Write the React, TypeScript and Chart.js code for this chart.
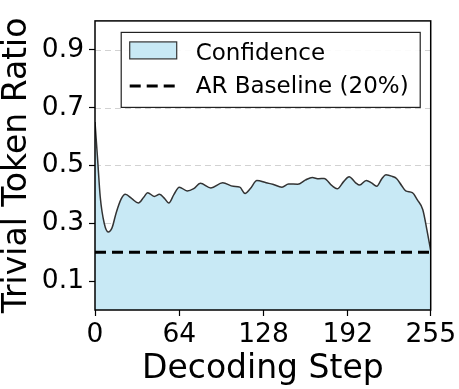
import React, { useEffect, useRef } from "react";
import { Chart, registerables } from "chart.js";
Chart.register(...registerables);

const steps = [0, 2, 4, 7, 10, 13, 16, 20, 23, 28, 33, 37, 40, 45, 49, 53, 56, 60, 64, 70, 75, 80, 88, 97, 105, 110, 114, 118, 123, 130, 135, 142, 147, 154, 160, 165, 170, 174, 180, 184, 189, 193, 198, 201, 206, 210, 214, 218, 221, 226, 229, 233, 236, 241, 245, 249, 252, 255];
const ratios = [0.65, 0.52, 0.39, 0.3, 0.27, 0.285, 0.335, 0.385, 0.4, 0.385, 0.37, 0.39, 0.406, 0.393, 0.4, 0.385, 0.37, 0.4, 0.425, 0.412, 0.42, 0.438, 0.422, 0.44, 0.428, 0.425, 0.403, 0.42, 0.448, 0.44, 0.435, 0.425, 0.436, 0.435, 0.45, 0.458, 0.454, 0.455, 0.43, 0.419, 0.445, 0.461, 0.44, 0.432, 0.448, 0.44, 0.428, 0.455, 0.468, 0.462, 0.455, 0.43, 0.412, 0.406, 0.38, 0.347, 0.28, 0.205];
const baselineValue = 0.2;
const xTicks = [0, 64, 128, 192, 255];
const yTicks = [0.1, 0.3, 0.5, 0.7, 0.9];
const seriesLabels = ["Confidence", "AR Baseline (20%)"];
const xTitle = "Decoding Step";
const yTitle = "Trivial Token Ratio";

const FILL = "#c8e9f5";
const LINE = "#333333";
const FONT = "'DejaVu Sans', sans-serif";

export default function App() {
  const ref = useRef<HTMLCanvasElement>(null);
  useEffect(() => {
    document.body.style.margin = "0";
    const canvas = ref.current!;
    const plugin = {
      id: "decor",
      beforeDatasetsDraw(chart: any) {
        const { ctx, chartArea: a, scales } = chart;
        ctx.save();
        ctx.strokeStyle = "#d2d2d2";
        ctx.lineWidth = 1.2;
        ctx.setLineDash([6, 4]);
        for (const v of yTicks) {
          const y = Math.round(scales.y.getPixelForValue(v)) + 0.5;
          ctx.beginPath();
          ctx.moveTo(a.left, y);
          ctx.lineTo(a.right, y);
          ctx.stroke();
        }
        ctx.restore();
      },
      afterDraw(chart: any) {
        const { ctx, chartArea: a } = chart;
        ctx.save();
        ctx.strokeStyle = "#000";
        ctx.lineWidth = 1.5;
        ctx.setLineDash([]);
        ctx.strokeRect(a.left, a.top, a.right - a.left, a.bottom - a.top);
        // legend
        const bx = a.right - 310;
        const by = a.top + 11;
        const bw = 299;
        const bh = 75;
        ctx.fillStyle = "rgba(255,255,255,0.9)";
        ctx.fillRect(bx, by, bw, bh);
        ctx.lineWidth = 1.2;
        ctx.strokeStyle = "#222";
        ctx.strokeRect(bx + 0.5, by + 0.5, bw, bh);
        // patch
        ctx.fillStyle = FILL;
        ctx.fillRect(bx + 9, by + 10, 47, 17);
        ctx.strokeStyle = LINE;
        ctx.lineWidth = 1.2;
        ctx.strokeRect(bx + 9, by + 10, 47, 17);
        // dashed line
        ctx.strokeStyle = "#000";
        ctx.lineWidth = 3;
        ctx.setLineDash([11, 6]);
        ctx.beginPath();
        ctx.moveTo(bx + 9, by + 54);
        ctx.lineTo(bx + 56, by + 54);
        ctx.stroke();
        ctx.setLineDash([]);
        ctx.fillStyle = "#000";
        ctx.font = `23px ${FONT}`;
        ctx.textBaseline = "alphabetic";
        ctx.textAlign = "left";
        ctx.fillText(seriesLabels[0], bx + 75, by + 28);
        ctx.fillText(seriesLabels[1], bx + 75, by + 61);
        ctx.restore();
      },
    };
    const chart = new Chart(canvas, {
      type: "line",
      data: {
        datasets: [
          {
            label: seriesLabels[0],
            data: steps.map((s, i) => ({ x: s, y: ratios[i] })),
            borderColor: LINE,
            borderWidth: 1.5,
            backgroundColor: FILL,
            fill: "origin",
            pointRadius: 0,
            cubicInterpolationMode: "monotone",
            order: 2,
          },
          {
            label: seriesLabels[1],
            data: [
              { x: xTicks[0], y: baselineValue },
              { x: xTicks[xTicks.length - 1], y: baselineValue },
            ],
            borderColor: "#000",
            borderWidth: 3,
            borderDash: [11, 6],
            fill: false,
            pointRadius: 0,
            order: 1,
          },
        ],
      },
      options: {
        responsive: false,
        animation: false,
        layout: { padding: { top: 3, right: 27, left: 0, bottom: 0 } },
        plugins: { legend: { display: false }, tooltip: { enabled: false } },
        scales: {
          x: {
            type: "linear",
            min: 0,
            max: 255,
            afterFit: (s: any) => {
              s.height = 79;
            },
            afterBuildTicks: (s: any) => {
              s.ticks = xTicks.map((v) => ({ value: v }));
            },
            ticks: {
              color: "#000",
              font: { family: FONT, size: 26.5 },
              padding: 3,
              maxRotation: 0,
              autoSkip: false,
              callback: (v: any) => String(v),
            },
            grid: { drawOnChartArea: false, tickColor: "#000", tickLength: 6, tickWidth: 1.2 },
            border: { display: false },
            title: {
              display: true,
              text: xTitle,
              color: "#000",
              font: { family: FONT, size: 33, lineHeight: 1.05 },
              padding: { top: 0, bottom: 2 },
            },
          },
          y: {
            type: "linear",
            min: 0,
            max: 1.0,
            afterFit: (s: any) => {
              s.width = 95;
            },
            afterBuildTicks: (s: any) => {
              s.ticks = yTicks.map((v) => ({ value: v }));
            },
            ticks: {
              color: "#000",
              font: { family: FONT, size: 26.5 },
              padding: 5,
              callback: (v: any) => Number(v).toFixed(1),
            },
            grid: { drawOnChartArea: false, tickColor: "#000", tickLength: 6, tickWidth: 1.2 },
            border: { display: false },
            title: {
              display: true,
              text: yTitle,
              color: "#000",
              font: { family: FONT, size: 33, lineHeight: 1.05 },
              padding: { top: 0, bottom: 0 },
            },
          },
        },
      },
      plugins: [plugin],
    } as any);
    return () => chart.destroy();
  }, []);
  return (
    <div style={{ width: 459, height: 389 }}>
      <canvas ref={ref} width={459} height={389} />
    </div>
  );
}
